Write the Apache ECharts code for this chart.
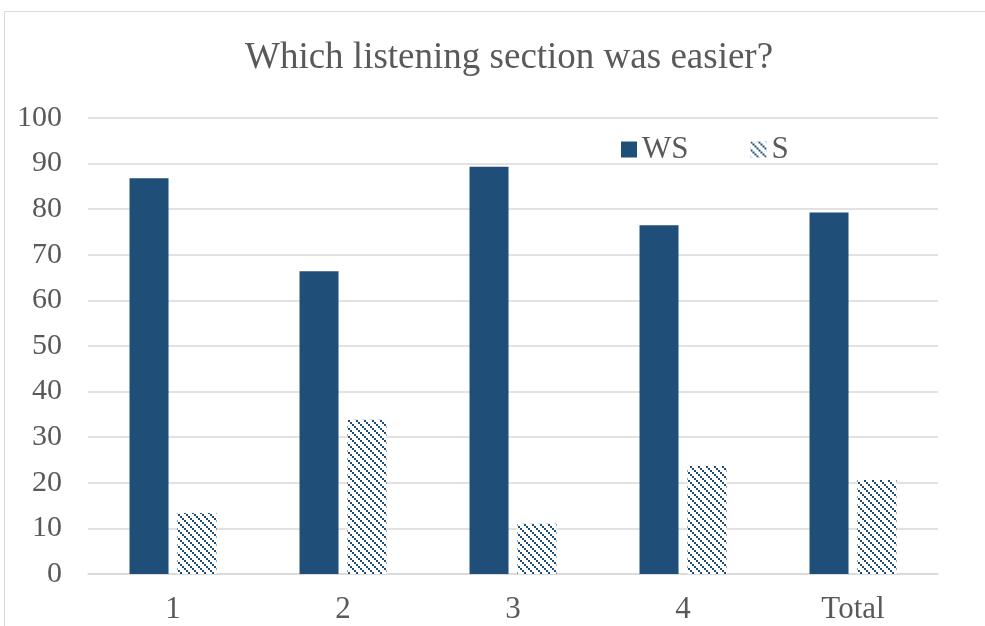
<!DOCTYPE html>
<html>
<head>
<meta charset="utf-8">
<script src="https://cdn.jsdelivr.net/npm/echarts@6/dist/echarts.min.js"></script>
<style>
  html, body { margin: 0; padding: 0; background: #fff; }
  #chart { width: 985px; height: 626px; }
</style>
</head>
<body>
<div id="chart"></div>
<script>
// 数据
const categories = ['1', '2', '3', '4', 'Total']
const wsValues = [86.8, 66.4, 89.3, 76.5, 79.3]
const sValues = [13.4, 33.8, 11.0, 23.7, 20.6]

// 斜线填充图案（点状对角线）
function hatchPattern () {
  const c = document.createElement('canvas')
  c.width = 8
  c.height = 8
  const ctx = c.getContext('2d')
  ctx.fillStyle = '#fff'
  ctx.fillRect(0, 0, 8, 8)
  ctx.fillStyle = '#1F4E79'
  for (let i = 0; i < 8; i += 2) {
    ctx.fillRect(i, i, 2, 2)
  }
  return c
}

const font = '"Liberation Serif", "Times New Roman", serif'
const myCharts = echarts.init(document.getElementById('chart'))
const pattern = { image: hatchPattern(), repeat: 'repeat' }

myCharts.setOption({
  animation: false,
  title: {
    text: 'Which listening section was easier?',
    left: 240,
    top: 35,
    textStyle: { fontFamily: font, fontSize: 37, fontWeight: 'normal', color: '#595959' }
  },
  legend: {
    left: 616,
    top: 129,
    itemWidth: 16,
    itemHeight: 16,
    itemGap: 62,
    icon: 'rect',
    textStyle: { fontFamily: font, fontSize: 31, color: '#595959' }
  },
  graphic: [{
    type: 'rect',
    shape: { x: 4.5, y: 11.5, width: 1200, height: 800 },
    style: { fill: 'none', stroke: '#d9d9d9', lineWidth: 1 },
    silent: true
  }],
  grid: { left: 88, right: 47, top: 118, bottom: 52 },
  xAxis: {
    type: 'category',
    data: categories,
    axisLine: { lineStyle: { color: '#d9d9d9', width: 1.5 } },
    axisTick: { show: false },
    axisLabel: { fontFamily: font, fontSize: 31, color: '#595959', margin: 20 }
  },
  yAxis: {
    type: 'value',
    min: 0,
    max: 100,
    interval: 10,
    axisLine: { show: false },
    axisTick: { show: false },
    splitLine: { lineStyle: { color: '#d9d9d9', width: 1.5 } },
    axisLabel: { fontFamily: font, fontSize: 30, color: '#595959', margin: 26 }
  },
  series: [
    {
      name: 'WS',
      type: 'bar',
      data: wsValues,
      barWidth: 39,
      barGap: '23%',
      itemStyle: { color: '#1F4E79' }
    },
    {
      name: 'S',
      type: 'bar',
      data: sValues,
      barWidth: 39,
      itemStyle: { color: pattern }
    }
  ]
})
</script>
</body>
</html>
